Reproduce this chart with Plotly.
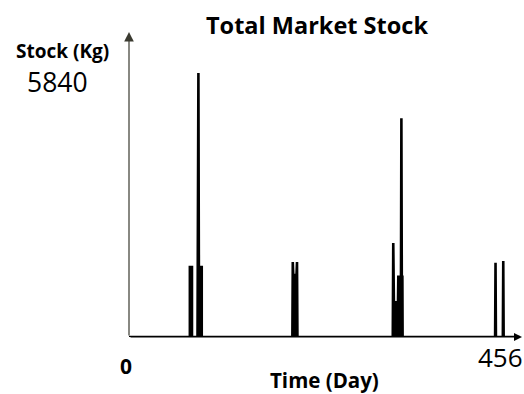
import plotly.graph_objects as go

# Total market stock (Kg) over time (day) - outline points of each stock episode
days = [0,
        74.8, 74.8, 77.4, 77.4,
        84.2, 85.3, 86.1,
        86.6, 86.6, 89.4, 89.4,
        200.8, 201.3, 201.9, 205.9, 206.5, 207.0,
        324.2, 324.8, 325.6, 330.6, 331.0, 334.3, 334.8, 335.3, 336.0, 336.3,
        450.0, 450.5, 451.0,
        459.5, 460.0, 460.5,
        480]
stock = [0,
         0, 1550, 1550, 0,
         0, 5840, 0,
         0, 1550, 1550, 0,
         0, 1660, 1370, 1370, 1660, 0,
         0, 2080, 770, 770, 1330, 1330, 4840, 1330, 1330, 0,
         0, 1640, 0,
         0, 1680, 0,
         0]

title = "Total Market Stock"
y_label = "Stock (Kg)"
x_label = "Time (Day)"
y_max_label = "5840"
x_min_label = "0"
x_max_label = "456"

W, H = 524, 394
L, R, T, B = 129, 2, 32, 57
pw, ph = W - L - R, H - T - B
px_per_day = 0.8136
kg_per_px = 5840 / 264.0

def px(p):
    return (p - L) / pw

def py(q):
    return (H - B - q) / ph

fig = go.Figure()
fig.add_trace(go.Scatter(x=days, y=stock, mode="lines", fill="tozeroy",
                         fillcolor="black",
                         line=dict(color="black", width=2.6, simplify=False),
                         hoverinfo="skip", showlegend=False))

font = "Open Sans"
ann = [
    dict(text="<b>" + title + "</b>", x=px(317), y=py(25), size=23.5),
    dict(text="<b>" + y_label + "</b>", x=px(62), y=py(51), size=19),
    dict(text=y_max_label, x=px(57), y=py(82), size=26.5),
    dict(text="<b>" + x_min_label + "</b>", x=px(126), y=py(366), size=21),
    dict(text=x_max_label, x=px(500), y=py(357), size=26),
    dict(text="<b>" + x_label + "</b>", x=px(324), y=py(380), size=20.5),
]
annotations = [dict(text=a["text"], x=a["x"], y=a["y"], xref="paper", yref="paper",
                    xanchor="center", yanchor="middle", showarrow=False,
                    font=dict(family=font, size=a["size"], color="black"))
               for a in ann]
# axis arrows
annotations.append(dict(x=1, y=0, ax=0, ay=0, xref="x domain", yref="y domain",
                        axref="x domain", ayref="y domain", showarrow=True,
                        arrowhead=2, arrowsize=1.6, arrowwidth=1, arrowcolor="black", text=""))
annotations.append(dict(x=0, y=1, ax=0, ay=0, xref="x domain", yref="y domain",
                        axref="x domain", ayref="y domain", showarrow=True,
                        arrowhead=2, arrowsize=1.6, arrowwidth=1.2, arrowcolor="#3a3a30", text=""))

fig.update_layout(
    width=W, height=H, margin=dict(l=L, r=R, t=T, b=B),
    paper_bgcolor="white", plot_bgcolor="white",
    xaxis=dict(range=[0, pw / px_per_day], showgrid=False, zeroline=False,
               showticklabels=False, ticks="", showline=False),
    yaxis=dict(range=[0, ph * kg_per_px], showgrid=False, zeroline=False,
               showticklabels=False, ticks="", showline=False),
    annotations=annotations,
)
fig.write_html("out.html", config={"displayModeBar": False},
               post_script="document.body.style.margin='0';")
